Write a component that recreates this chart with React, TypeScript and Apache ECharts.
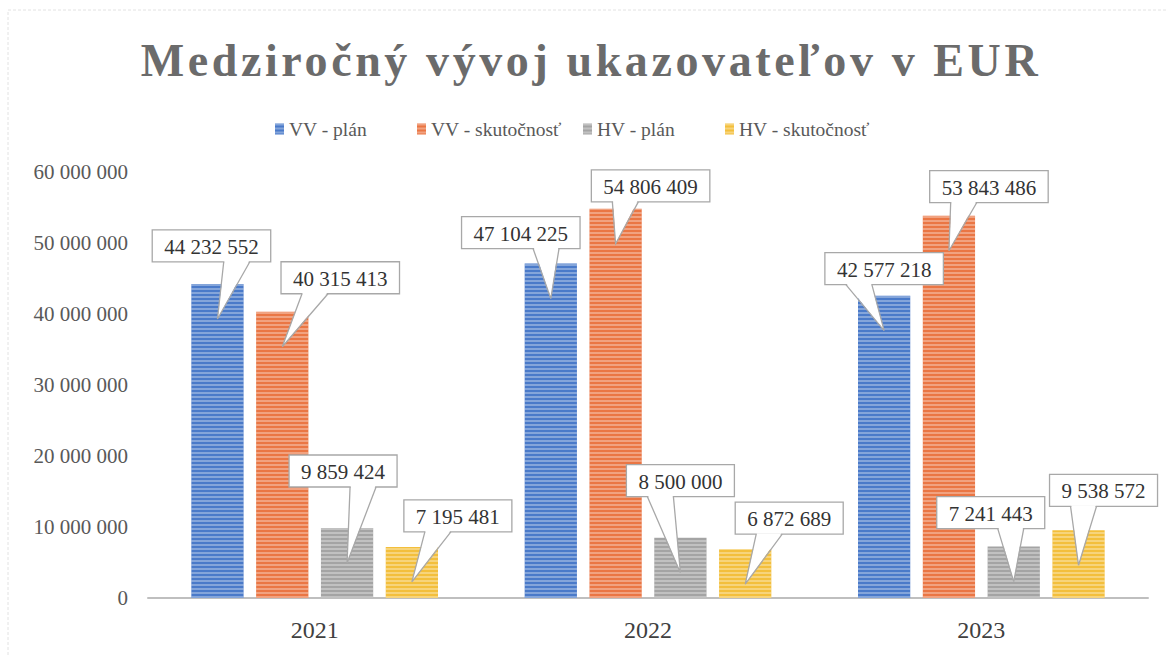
import React, { useEffect, useRef } from "react";
import * as echarts from "echarts";

const TITLE = "Medziročný vývoj ukazovateľov v EUR";
const CATEGORIES = ["2021", "2022", "2023"];
const SERIES_NAMES = ["VV - plán", "VV - skutočnosť", "HV - plán", "HV - skutočnosť"];
const VV_PLAN = [44232552, 47104225, 42577218];
const VV_SKUT = [40315413, 54806409, 53843486];
const HV_PLAN = [9859424, 8500000, 7241443];
const HV_SKUT = [7195481, 6872689, 9538572];
const Y_MIN = 0;
const Y_MAX = 60000000;
const Y_STEP = 10000000;

const SERIES_VALUES = [VV_PLAN, VV_SKUT, HV_PLAN, HV_SKUT];
const COLORS = ["#4a7ac9", "#ea7644", "#a4a4a4", "#f3bf3c"];
const LEGEND_LEFT = [270, 412, 578, 720];

// callout placement relative to its bar (per series, per category)
const CALLOUT_DX = [
  [-6, -30, 0],
  [58, 35, 40],
  [-4, 0, -23],
  [46, 44, 25],
];
const CALLOUT_GAP = [
  [22, 15, 11],
  [18, 7, 13],
  [41, 41, 18],
  [15, 15, 24],
];

const SERIF = "Liberation Serif";
const CAT_GAP = 0.26;
const BAR_GAP = 0.24;
const LABEL_FS = 21;
const PADX = 12;
const BOX_H = 32;

const fmt = (n: number) =>
  Math.round(n).toString().replace(/\B(?=(\d{3})+(?!\d))/g, " ");

const textW = (s: string, fs: number) => {
  let w = 0;
  for (const ch of s) w += ch === " " ? 0.25 * fs : 0.5 * fs;
  return w;
};

export default function App() {
  const ref = useRef<HTMLDivElement>(null);

  useEffect(() => {
    if (!ref.current) return;
    const chart = echarts.init(ref.current, undefined, { renderer: "svg" });

    const barSeries = SERIES_NAMES.map((name, s) => ({
      name,
      type: "bar",
      data: SERIES_VALUES[s],
      barCategoryGap: CAT_GAP * 100 + "%",
      barGap: BAR_GAP * 100 + "%",
      itemStyle: {
        color: COLORS[s],
        decal: {
          symbol: "rect",
          symbolSize: 1,
          color: "rgba(255,255,255,0.32)",
          dashArrayX: [1, 0],
          dashArrayY: [2, 2],
          rotation: 0,
        },
      },
      z: 2,
    }));

    const calloutData: number[][] = [];
    SERIES_VALUES.forEach((vals, s) =>
      vals.forEach((v, i) => calloutData.push([i, v, s]))
    );

    const calloutSeries = {
      type: "custom",
      name: "callouts",
      data: calloutData,
      encode: { x: 0, y: 1 },
      z: 10,
      silent: true,
      renderItem: (params: any, api: any) => {
        const cat = api.value(0);
        const val = api.value(1);
        const s = api.value(2);
        const basePt = api.coord([cat, 0]);
        const topPt = api.coord([cat, val]);
        const catW = api.size([1, 0])[0];
        const band = catW * (1 - CAT_GAP);
        const bw = band / (4 + 3 * BAR_GAP);
        const barX = basePt[0] - band / 2 + bw / 2 + s * bw * (1 + BAR_GAP);
        const dx = CALLOUT_DX[s][cat];
        const gap = CALLOUT_GAP[s][cat];
        const text = fmt(val);
        const w = textW(text, LABEL_FS) + 2 * PADX;
        const cx = barX + dx;
        const bottom = topPt[1] - gap;
        const topY = bottom - BOX_H;
        const left = cx - w / 2;
        const right = cx + w / 2;
        const baseC = dx < 0 ? right - 34 : left + 34;
        const b0 = baseC - 13;
        const b1 = baseC + 13;
        const tip = [barX, topPt[1] + 35];
        const stroke = "#a8a8a8";
        return {
          type: "group",
          children: [
            {
              type: "rect",
              shape: { x: left, y: topY, width: w, height: BOX_H },
              style: { fill: "#ffffff", stroke, lineWidth: 1.3 },
            },
            {
              type: "polygon",
              shape: { points: [[b0 + 0.7, bottom - 1], [b1 - 0.7, bottom - 1], tip] },
              style: { fill: "#ffffff" },
            },
            {
              type: "polyline",
              shape: { points: [[b0, bottom], tip, [b1, bottom]] },
              style: { fill: null, stroke, lineWidth: 1.3 },
            },
            {
              type: "text",
              style: {
                text,
                x: cx,
                y: topY + BOX_H / 2 + 1,
                align: "center",
                verticalAlign: "middle",
                fill: "#333333",
                fontSize: LABEL_FS,
                fontFamily: SERIF,
              },
            },
          ],
        };
      },
    };

    const legends = SERIES_NAMES.map((name, s) => ({
      data: [name],
      top: 114,
      left: LEGEND_LEFT[s],
      itemWidth: 9,
      itemHeight: 11,
      itemGap: 10,
      icon: "rect",
      textStyle: { fontSize: 19.5, fontFamily: SERIF, color: "#595959" },
    }));

    chart.setOption({
      animation: false,
      backgroundColor: "#ffffff",
      graphic: [
        {
          type: "rect",
          shape: { x: 8, y: 10, width: 1170, height: 660 },
          style: { fill: "none", stroke: "#e2e2e2", lineWidth: 1, lineDash: [3, 2] },
          silent: true,
        },
        {
          type: "text",
          x: 591,
          y: 60,
          style: {
            text: TITLE,
            fontSize: 46,
            fontWeight: "bold",
            fontFamily: SERIF,
            fill: "#6b6b6b",
            align: "center",
            verticalAlign: "middle",
          },
        },
      ],
      legend: legends,
      grid: { left: 148, right: 19, top: 172, bottom: 57, containLabel: false },
      xAxis: {
        type: "category",
        data: CATEGORIES,
        axisLine: { show: true, lineStyle: { color: "#bfbfbf", width: 2 } },
        axisTick: { show: false },
        axisLabel: { fontSize: 24, fontFamily: SERIF, color: "#404040", margin: 20 },
      },
      yAxis: {
        type: "value",
        min: Y_MIN,
        max: Y_MAX,
        interval: Y_STEP,
        axisLine: { show: false },
        axisTick: { show: false },
        splitLine: { show: false },
        axisLabel: {
          fontSize: 21,
          fontFamily: SERIF,
          color: "#595959",
          margin: 20,
          formatter: (v: number) => fmt(v),
        },
      },
      series: [...barSeries, calloutSeries],
    });

    return () => chart.dispose();
  }, []);

  return (
    <>
      <style>{`.chart-wrap text[style*="46px"]{letter-spacing:3.6px}`}</style>
      <div
        className="chart-wrap"
        ref={ref}
        style={{ position: "absolute", left: 0, top: 0, width: 1167, height: 655 }}
      />
    </>
  );
}
